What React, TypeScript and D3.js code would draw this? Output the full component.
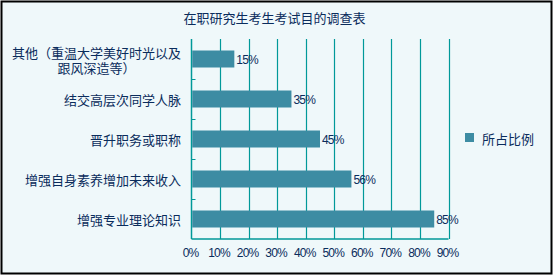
import React from "react";
import * as d3 from "d3";

const title = "在职研究生考生考试目的调查表";
const categories = [
  "其他（重温大学美好时光以及\n跟风深造等）",
  "结交高层次同学人脉",
  "晋升职务或职称",
  "增强自身素养增加未来收入",
  "增强专业理论知识",
];
const values = [15, 35, 45, 56, 85];
const ticks = [0, 10, 20, 30, 40, 50, 60, 70, 80, 90];
const seriesName = "所占比例";

const W = 553;
const H = 275;
const BG = "#EFF8FA";
const BAR = "#3D8CA3";
const GRID = "#009999";
const TEXT = "#0A2C5C";
const CJK = "'Noto Sans CJK SC', sans-serif";
const NUM = "'Liberation Sans', Arial, sans-serif";

export default function App() {
  const x = d3.scaleLinear().domain([0, 90]).range([191.5, 448.5]);
  const y = d3
    .scaleBand<string>()
    .domain(categories)
    .range([39, 239])
    .paddingInner(0.575)
    .paddingOuter(0.2875);
  const step = y.step();
  const top = 39;
  const bottom = 239;

  return (
    <svg
      width={W}
      height={H}
      style={{ position: "absolute", left: 0, top: 0, display: "block" }}
    >
      <rect x={1.5} y={1.5} width={550} height={272} fill={BG} stroke="#000" strokeWidth={2} />
      <text x={274.5} y={17} textAnchor="middle" dominantBaseline="central" fontFamily={CJK} fontSize={13} fill={TEXT}>
        {title}
      </text>
      {/* gridlines */}
      {ticks.slice(1).map((t) => (
        <line key={t} x1={Math.round(x(t)) + 0.5} x2={Math.round(x(t)) + 0.5} y1={top} y2={bottom} stroke={GRID} strokeWidth={1.2} />
      ))}
      {/* left axis */}
      <line x1={x(0)} x2={x(0)} y1={top} y2={bottom} stroke={GRID} strokeWidth={1.5} />
      {categories.slice(1).map((c) => {
        const yy = Math.round((y(c) as number) - (step - y.bandwidth()) / 2) + 0.5;
        return <line key={c} x1={x(0)} x2={x(0) + 4} y1={yy} y2={yy} stroke={GRID} strokeWidth={1} />;
      })}
      {/* bottom axis */}
      <line x1={x(0)} x2={x(90)} y1={bottom} y2={bottom} stroke={GRID} strokeWidth={1.5} />
      {/* bars */}
      {categories.map((c, i) => (
        <rect key={c} x={x(0) + 0.75} y={y(c)} width={x(values[i]) - x(0) - 0.75} height={y.bandwidth()} fill={BAR} />
      ))}
      {/* value labels */}
      {categories.map((c, i) => (
        <text
          key={c}
          x={x(values[i]) + 2}
          y={(y(c) as number) + y.bandwidth() / 2 + 0.5}
          dominantBaseline="central"
          fontFamily={NUM}
          fontSize={12}
          letterSpacing={-0.8}
          fill={TEXT}
        >
          {values[i]}%
        </text>
      ))}
      {/* category labels */}
      {categories.map((c) => {
        const lines = c.split("\n");
        const cy = (y(c) as number) + y.bandwidth() / 2;
        const lh = 15;
        const blockW = d3.max(lines, (l) => l.length * 13) as number;
        const right = 181;
        const multi = lines.length > 1;
        return (
          <text
            key={c}
            textAnchor={multi ? "middle" : "end"}
            dominantBaseline="central"
            fontFamily={CJK}
            fontSize={13}
            fill={TEXT}
          >
            {lines.map((l, j) => (
              <tspan
                key={j}
                x={multi ? right - blockW / 2 : right}
                y={cy + (j - (lines.length - 1) / 2) * lh}
              >
                {l}
              </tspan>
            ))}
          </text>
        );
      })}
      {/* x tick labels */}
      {ticks.map((t) => (
        <text
          key={t}
          x={x(t) - 1}
          y={253}
          textAnchor="middle"
          dominantBaseline="central"
          fontFamily={NUM}
          fontSize={12}
          letterSpacing={-0.8}
          fill={TEXT}
        >
          {t}%
        </text>
      ))}
      {/* legend */}
      <rect x={465} y={133} width={9} height={9} fill={BAR} />
      <text x={482} y={138} dominantBaseline="central" fontFamily={CJK} fontSize={13} fill={TEXT}>
        {seriesName}
      </text>
    </svg>
  );
}
